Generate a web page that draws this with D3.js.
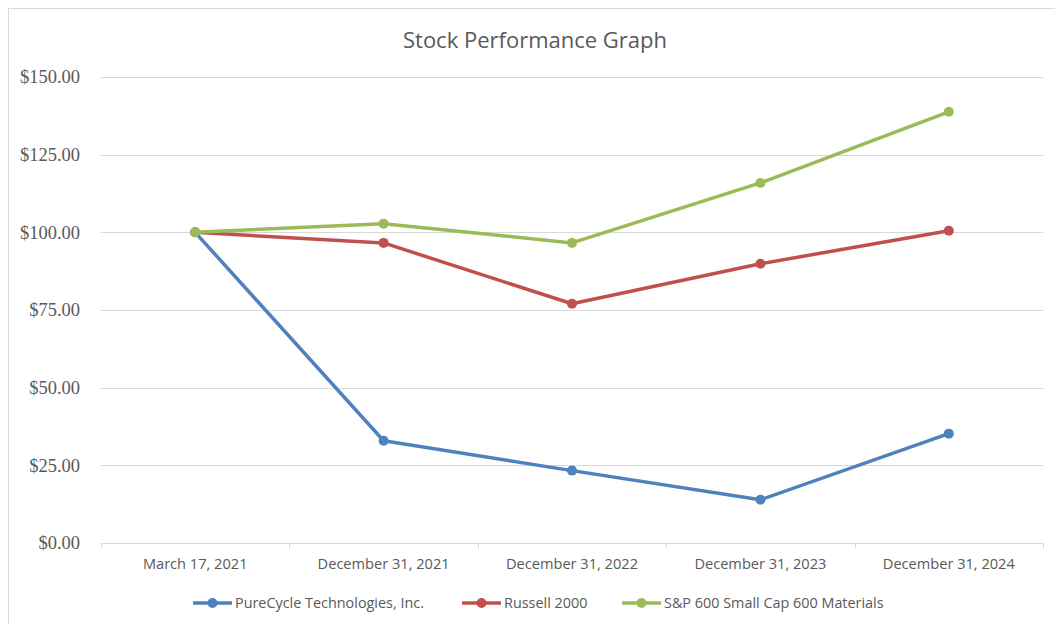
<!DOCTYPE html>
<html lang="en">
<head>
<meta charset="UTF-8">
<title>Stock Performance Graph</title>
<script src="https://cdn.jsdelivr.net/npm/d3@7"></script>
<style>
  body { margin: 0; background: #fff; }
  svg { display: block; }
</style>
</head>
<body>
<div id="chart"></div>
<script>
// data
const categories = ["March 17, 2021", "December 31, 2021", "December 31, 2022", "December 31, 2023", "December 31, 2024"];
const seriesNames = ["PureCycle Technologies, Inc.", "Russell 2000", "S&P 600 Small Cap 600 Materials"];
const pureCycle = [100, 32.9, 23.3, 13.9, 35.2];
const russell = [100, 96.6, 77.0, 89.9, 100.5];
const sp600 = [100, 102.8, 96.6, 115.9, 138.8];
const yTicks = [0, 25, 50, 75, 100, 125, 150];
const colors = ["#4f81bd", "#c0504d", "#9bbb59"];

const width = 1055, height = 624;
const margin = {top: 77, right: 12, bottom: 81, left: 101};

const svg = d3.select("#chart").append("svg")
    .attr("width", width)
    .attr("height", height);

// chart frame
svg.append("rect")
    .attr("x", 8.5).attr("y", 8.5)
    .attr("width", width).attr("height", height)
    .attr("fill", "none")
    .attr("stroke", "#d9d9d9");

const x = d3.scaleBand()
    .domain(categories)
    .range([margin.left, width - margin.right]);

const y = d3.scaleLinear()
    .domain([0, 150])
    .range([height - margin.bottom, margin.top]);

// gridlines
svg.append("g")
    .selectAll("line")
    .data(yTicks.filter(d => d > 0))
    .join("line")
      .attr("x1", margin.left).attr("x2", width - margin.right)
      .attr("y1", d => Math.round(y(d)) + 0.5).attr("y2", d => Math.round(y(d)) + 0.5)
      .attr("stroke", "#d9d9d9");

// y axis labels
const yAxis = svg.append("g")
    .attr("transform", `translate(${margin.left}, 0)`)
    .call(d3.axisLeft(y).tickValues(yTicks).tickSize(0).tickPadding(21)
        .tickFormat(d => "$" + d3.format(".2f")(d)));
yAxis.select(".domain").remove();
yAxis.selectAll("text")
    .attr("font-family", "'Liberation Serif', serif")
    .attr("font-size", 18.5)
    .attr("fill", "#595959");

// x axis
const xAxis = svg.append("g")
    .attr("transform", `translate(0, ${Math.round(y(0)) + 0.5})`)
    .call(d3.axisBottom(x).tickSize(0).tickPadding(15));
xAxis.select(".domain").remove();
xAxis.append("line")
    .attr("x1", margin.left).attr("x2", width - margin.right)
    .attr("stroke", "#d9d9d9");
xAxis.selectAll(".bound")
    .data(categories.concat(["end"]))
    .join("line")
      .attr("class", "bound")
      .attr("x1", (d, i) => Math.round(margin.left + i * x.step()) + 0.5)
      .attr("x2", (d, i) => Math.round(margin.left + i * x.step()) + 0.5)
      .attr("y1", 0).attr("y2", 5)
      .attr("stroke", "#d9d9d9");
xAxis.selectAll("text")
    .attr("font-family", "'Open Sans', sans-serif")
    .attr("font-size", 14.6)
    .attr("fill", "#595959");

// title
svg.append("text")
    .attr("x", 535).attr("y", 48)
    .attr("text-anchor", "middle")
    .attr("font-family", "'Open Sans', sans-serif")
    .attr("font-size", 22)
    .attr("fill", "#595959")
    .text("Stock Performance Graph");

// series
const allSeries = [pureCycle, russell, sp600];
const line = d3.line()
    .x((d, i) => x(categories[i]) + x.bandwidth() / 2)
    .y(d => y(d));

allSeries.forEach((vals, k) => {
  const g = svg.append("g");
  g.append("path")
      .datum(vals)
      .attr("d", line)
      .attr("fill", "none")
      .attr("stroke", colors[k])
      .attr("stroke-width", 3.5)
      .attr("stroke-linejoin", "round");
  g.selectAll("circle")
      .data(vals)
      .join("circle")
        .attr("cx", (d, i) => x(categories[i]) + x.bandwidth() / 2)
        .attr("cy", d => y(d))
        .attr("r", 5)
        .attr("fill", colors[k]);
});

// legend
const legendX = [193, 462, 622];
const legend = svg.append("g").attr("transform", "translate(0, 603)");
seriesNames.forEach((name, k) => {
  const item = legend.append("g").attr("transform", `translate(${legendX[k]}, 0)`);
  item.append("line")
      .attr("x1", 0).attr("x2", 39)
      .attr("stroke", colors[k])
      .attr("stroke-width", 3.5);
  item.append("circle")
      .attr("cx", 19.5).attr("r", 5)
      .attr("fill", colors[k]);
  item.append("text")
      .attr("x", 42).attr("y", 5)
      .attr("font-family", "'Open Sans', sans-serif")
      .attr("font-size", 14.4)
      .attr("fill", "#595959")
      .text(name);
});
</script>
</body>
</html>
